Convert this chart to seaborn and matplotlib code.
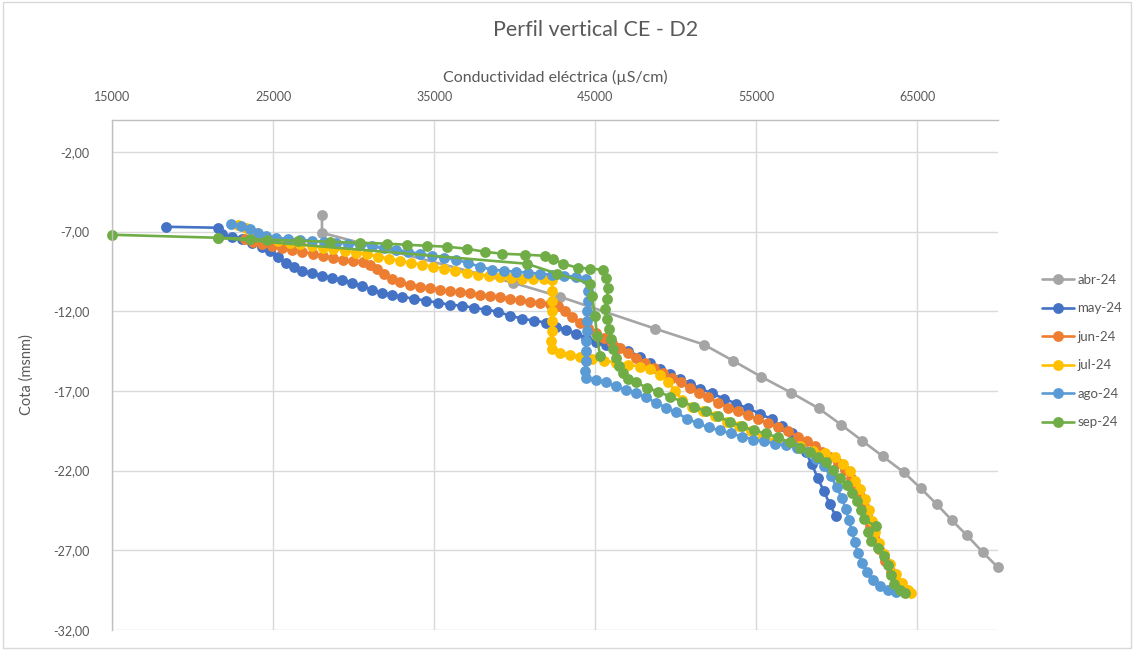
import pandas as pd
import matplotlib.pyplot as plt
import seaborn as sns
from matplotlib.lines import Line2D
from matplotlib.patches import Rectangle
from matplotlib.ticker import FuncFormatter

# Datos (CE en µS/cm, cota en msnm)
meses = ["abr-24", "may-24", "jun-24", "jul-24", "ago-24", "sep-24"]
colores = ["#A5A5A5", "#4472C4", "#ED7D31", "#FFC000", "#5B9BD5", "#70AD47"]

abr_ce = [28035, 28035, 39890, 42808, 48704, 51745, 53545, 55283, 57145, 58883,
          60249, 61552, 62856, 64159, 65215, 66208, 67139, 68070, 69063, 69994]
abr_cota = [-5.95, -7.08, -10.21, -11.09, -13.09, -14.09, -15.10, -16.10, -17.10, -18.10,
            -19.11, -20.11, -21.11, -22.11, -23.12, -24.12, -25.12, -26.06, -27.13, -28.07]

may_ce = [18352, 21579, 21828, 22448, 23069, 23690, 24311, 24807, 25304, 25800,
          26297, 26794, 27414, 28035, 28655, 29276, 29897, 30518, 31138, 31759,
          32380, 33000, 33745, 34490, 35235, 35980, 36725, 37469, 38214, 38959,
          39704, 40449, 41194, 41938, 42559, 43180, 43800, 44421, 45042, 45663,
          46345, 47028, 47773, 48394, 49014, 49635, 50256, 50876, 51497, 52242,
          52987, 53732, 54477, 55221, 55966, 56587, 57208, 57704, 58077, 58449,
          58821, 59194, 59566, 59938]
may_cota = [-6.70, -6.76, -7.14, -7.33, -7.45, -7.70, -7.95, -8.20, -8.58, -8.96,
            -9.21, -9.46, -9.58, -9.77, -9.90, -10.02, -10.21, -10.40, -10.65, -10.84,
            -10.96, -11.09, -11.21, -11.34, -11.46, -11.59, -11.65, -11.78, -11.90, -12.03,
            -12.28, -12.46, -12.59, -12.71, -12.97, -13.15, -13.40, -13.65, -13.91, -14.09,
            -14.28, -14.47, -14.85, -15.22, -15.60, -15.91, -16.22, -16.54, -16.85, -17.16,
            -17.48, -17.79, -18.10, -18.42, -18.79, -19.23, -19.67, -20.23, -20.86, -21.61,
            -22.49, -23.30, -24.12, -24.87]

jun_ce = [23255, 23752, 24311, 24931, 25552, 26173, 26793, 27476, 28097, 28717,
          29338, 29959, 30580, 31014, 31449, 31883, 32380, 32876, 33497, 34118,
          34738, 35359, 35980, 36600, 37221, 37842, 38462, 39083, 39704, 40324,
          40945, 41566, 42187, 42683, 43118, 43552, 44049, 44545, 45042, 45538,
          46035, 46532, 47028, 47525, 48083, 48642, 49200, 49759, 50318, 50876,
          51435, 51994, 52614, 53235, 53856, 54477, 55097, 55718, 56339, 56959,
          57580, 58139, 58635, 59070, 59566, 60063, 60497, 60870, 61180, 61428,
          61677, 61863, 62049, 62297, 62608, 62980, 63353, 63725, 64097]
jun_cota = [-7.45, -7.64, -7.76, -7.89, -8.02, -8.14, -8.27, -8.39, -8.52, -8.64,
            -8.77, -8.83, -8.89, -9.08, -9.33, -9.64, -9.96, -10.15, -10.33, -10.46,
            -10.52, -10.65, -10.71, -10.77, -10.84, -10.96, -11.02, -11.09, -11.21, -11.27,
            -11.40, -11.46, -11.52, -11.65, -11.96, -12.34, -12.71, -13.03, -13.34, -13.65,
            -13.97, -14.28, -14.59, -14.91, -15.22, -15.53, -15.85, -16.16, -16.47, -16.79,
            -17.10, -17.41, -17.73, -18.04, -18.29, -18.54, -18.79, -19.04, -19.29, -19.54,
            -19.86, -20.17, -20.48, -20.80, -21.17, -21.55, -21.99, -22.49, -23.05, -23.62,
            -24.24, -24.87, -25.50, -26.19, -26.94, -27.69, -28.38, -29.01, -29.51]

jul_ce = [22821, 23317, 23938, 24621, 25304, 26048, 26669, 27414, 28097, 28717,
          29462, 30145, 30828, 31511, 32193, 32876, 33559, 34242, 34924, 35607,
          36290, 37035, 37718, 38400, 39083, 39766, 40449, 41131, 41814, 42311,
          42311, 42311, 42311, 42311, 42311, 42249, 42311, 42808, 43428, 44049,
          44794, 45538, 46283, 47028, 47773, 48394, 49014, 49511, 49945, 50380,
          51001, 51684, 52428, 53173, 53918, 54663, 55408, 56152, 56897, 57704,
          58511, 59256, 59876, 60373, 60808, 61118, 61428, 61739, 61987, 62173,
          62359, 62608, 62918, 63291, 63663, 64035, 64407, 64594]
jul_cota = [-6.57, -6.76, -7.08, -7.39, -7.58, -7.70, -7.76, -7.89, -8.02, -8.08,
            -8.20, -8.33, -8.39, -8.58, -8.70, -8.83, -8.96, -9.08, -9.21, -9.33,
            -9.46, -9.58, -9.71, -9.77, -9.83, -9.90, -9.96, -9.96, -9.96, -10.02,
            -10.71, -11.34, -11.96, -12.59, -13.22, -13.84, -14.34, -14.59, -14.72, -14.85,
            -14.97, -15.10, -15.22, -15.35, -15.47, -15.60, -15.97, -16.41, -16.98, -17.54,
            -17.98, -18.29, -18.60, -18.92, -19.23, -19.54, -19.86, -20.11, -20.30, -20.48,
            -20.74, -20.92, -21.17, -21.61, -22.05, -22.62, -23.18, -23.81, -24.50, -25.18,
            -25.87, -26.56, -27.25, -27.88, -28.51, -29.07, -29.51, -29.70]

ago_ce = [22386, 23007, 23566, 24062, 24559, 25179, 25924, 26669, 27414, 28159,
          28904, 29649, 30393, 31138, 31883, 32628, 33373, 34118, 34862, 35607,
          36352, 37097, 37842, 38587, 39331, 40076, 40821, 41566, 42311, 43056,
          43800, 44421, 44545, 44545, 44483, 44483, 44483, 44421, 44421, 44421,
          44359, 44421, 45042, 45663, 46283, 46904, 47525, 48145, 48766, 49387,
          50007, 50690, 51373, 52056, 52739, 53421, 54104, 54787, 55470, 56152,
          56835, 57518, 58201, 58697, 59194, 59628, 60001, 60311, 60559, 60746,
          60932, 61118, 61304, 61552, 61863, 62235, 62670, 63166, 63663]
ago_cota = [-6.51, -6.64, -6.82, -7.08, -7.26, -7.39, -7.45, -7.51, -7.58, -7.64,
            -7.70, -7.76, -7.83, -7.89, -8.02, -8.14, -8.27, -8.39, -8.52, -8.64,
            -8.77, -8.96, -9.21, -9.39, -9.46, -9.52, -9.58, -9.64, -9.71, -9.77,
            -9.83, -9.96, -10.71, -11.34, -11.96, -12.59, -13.22, -13.84, -14.47, -15.10,
            -15.72, -16.16, -16.29, -16.47, -16.72, -16.91, -17.16, -17.41, -17.73, -18.04,
            -18.35, -18.73, -19.04, -19.29, -19.48, -19.67, -19.86, -20.05, -20.17, -20.30,
            -20.42, -20.55, -20.86, -21.24, -21.74, -22.36, -23.05, -23.74, -24.43, -25.12,
            -25.81, -26.50, -27.19, -27.82, -28.38, -28.88, -29.26, -29.51, -29.63]

sep_ce = [15000, 21579, 23566, 24621, 26545, 28531, 30393, 32069, 33311, 34552,
          35793, 37035, 38152, 39207, 40635, 41876, 42373, 42994, 43925, 44669,
          45476, 45663, 45787, 45725, 45600, 45725, 45849, 45973, 46097, 46283,
          46469, 46718, 47028, 47525, 48207, 48890, 49635, 50380, 51125, 51870,
          52614, 53359, 54104, 54849, 55594, 56339, 57083, 57704, 58325, 58821,
          59318, 59752, 60187, 60621, 60932, 61242, 61490, 61677, 62422, 61925,
          62111, 62546, 62918, 63166, 63353, 63539, 63911, 64221]
sep_cota = [-7.20, -7.39, -7.45, -7.51, -7.58, -7.64, -7.70, -7.76, -7.83, -7.89,
            -7.95, -8.08, -8.27, -8.39, -8.45, -8.52, -8.70, -9.02, -9.27, -9.33,
            -9.39, -9.90, -10.52, -11.21, -11.84, -12.46, -13.09, -13.72, -14.34, -14.91,
            -15.41, -15.85, -16.22, -16.47, -16.79, -17.04, -17.35, -17.67, -17.98, -18.29,
            -18.60, -18.92, -19.23, -19.48, -19.67, -19.92, -20.23, -20.55, -20.86, -21.17,
            -21.49, -21.99, -22.49, -22.93, -23.43, -23.93, -24.50, -25.06, -25.50, -25.87,
            -26.44, -26.88, -27.38, -27.94, -28.57, -29.13, -29.51, -29.70]
# tramo de subida de sep-24
sep_sub_ce = [45290, 45104, 44980, 44794, 44669, 42621, 40759, 21579]
sep_sub_cota = [-14.78, -13.53, -12.28, -11.02, -10.27, -9.64, -9.02, -7.39]

ce_ticks = [15000, 25000, 35000, 45000, 55000, 65000]
cota_ticks = [-32, -27, -22, -17, -12, -7, -2]

# Armar tabla larga
partes = [
    ("abr-24", 1, abr_ce, abr_cota),
    ("may-24", 1, may_ce, may_cota),
    ("jun-24", 1, jun_ce, jun_cota),
    ("jul-24", 1, jul_ce, jul_cota),
    ("ago-24", 1, ago_ce, ago_cota),
    ("sep-24", 1, sep_ce, sep_cota),
    ("sep-24", 2, sep_sub_ce, sep_sub_cota),
]
df = pd.concat([pd.DataFrame({"mes": m, "tramo": t, "ce": x, "cota": y})
                for m, t, x, y in partes], ignore_index=True)

sns.set_style("white")
plt.rcParams["font.family"] = ["Lato", "DejaVu Sans"]
gris = "#595959"
ms = 7.8
lw = 1.9

fig = plt.figure(figsize=(11.34, 6.51), dpi=100)
ax = fig.add_axes([112 / 1134, 1 - 630 / 651, 886 / 1134, 510 / 651])

sns.lineplot(data=df, x="ce", y="cota", hue="mes", hue_order=meses, palette=colores,
             units="tramo", estimator=None, sort=False, marker="o", markersize=ms,
             markeredgewidth=0, linewidth=lw, legend=False, clip_on=False, ax=ax)

ax.set_xlim(15000, 70000)
ax.set_ylim(-32, 0)
ax.set_xticks(ce_ticks)
ax.set_yticks(cota_ticks)
ax.yaxis.set_major_formatter(FuncFormatter(lambda v, p: f"{v:.2f}".replace(".", ",")))
ax.xaxis.tick_top()
ax.xaxis.set_label_position("top")
ax.tick_params(length=0, labelsize=9, colors=gris)
ax.tick_params(axis="x", pad=12)
ax.tick_params(axis="y", pad=16)
ax.grid(True, color="#D9D9D9", lw=1)
ax.set_axisbelow(True)
for s in ["right", "bottom"]:
    ax.spines[s].set_visible(False)
for s in ["top", "left"]:
    ax.spines[s].set_color("#BFBFBF")
    ax.spines[s].set_linewidth(1)

ax.set_xlabel("Conductividad eléctrica (µS/cm)", fontsize=11.5, color=gris, labelpad=7)
ax.set_ylabel("Cota (msnm)", fontsize=10.5, color=gris, labelpad=14)
fig.text(596 / 1134, 1 - 30 / 651, "Perfil vertical CE - D2", ha="center", va="center",
         fontsize=15.5, color=gris)

handles = [Line2D([0], [0], color=c, marker="o", markersize=ms, lw=lw, markeredgewidth=0)
           for c in colores]
fig.legend(handles, meses, loc="upper left", bbox_to_anchor=(1030 / 1134, 1 - 262 / 651),
           frameon=False, fontsize=9.5, labelcolor=gris, handlelength=2.4,
           handletextpad=0.3, labelspacing=1.25)

fig.patches.append(Rectangle((0.003, 0.004), 0.994, 0.993, transform=fig.transFigure,
                             fill=False, ec="#D9D9D9", lw=1))

plt.savefig("out.png", dpi=100)
